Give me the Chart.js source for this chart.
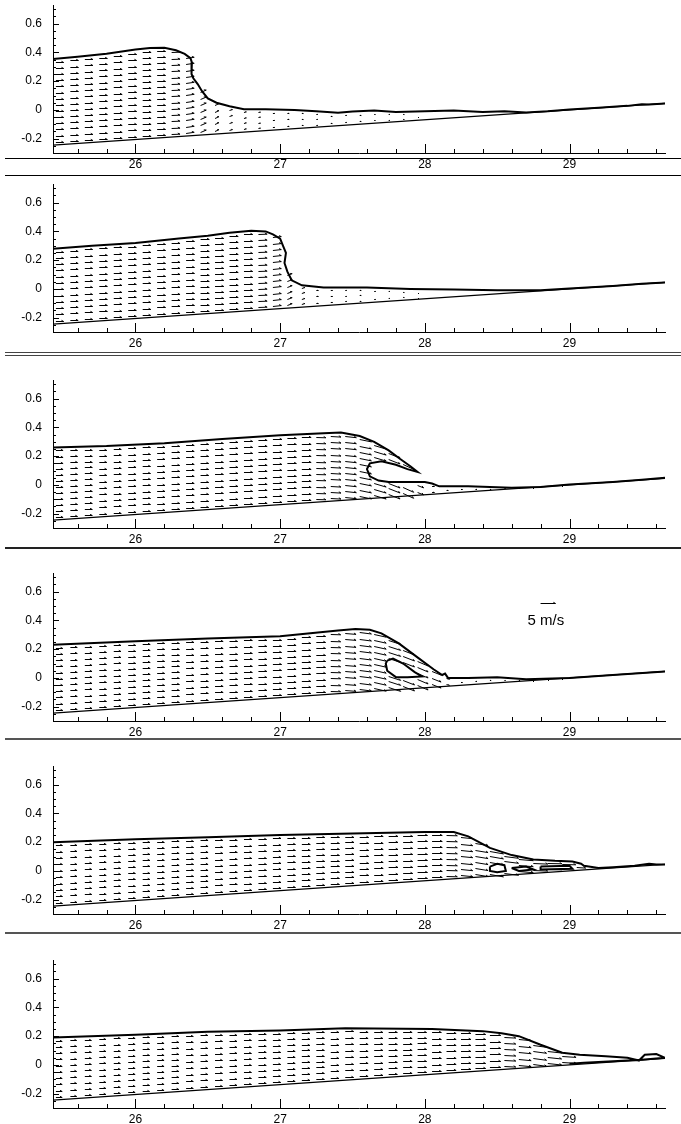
<!DOCTYPE html>
<html>
<head>
<meta charset="utf-8">
<script src="https://cdn.jsdelivr.net/npm/chart.js@4.4.1/dist/chart.umd.min.js"></script>
<style>
  body { margin: 0; background: #fff; width: 681px; height: 1124px; position: relative; overflow: hidden; }
  canvas.panel { position: absolute; left: 0; }
  .rule { position: absolute; left: 5px; right: 0; }
</style>
</head>
<body>
<div class="rule" style="top:158px;height:1px;background:#000"></div>
<div class="rule" style="top:175px;height:1px;background:#000"></div>
<div class="rule" style="top:352px;height:1px;background:#444"></div>
<div class="rule" style="top:355px;height:1px;background:#444"></div>
<div class="rule" style="top:547px;height:2px;background:#222"></div>
<div class="rule" style="top:738px;height:2px;background:#555"></div>
<div class="rule" style="top:932px;height:2px;background:#555"></div>

<canvas id="panel1" class="panel"></canvas>
<canvas id="panel2" class="panel"></canvas>
<canvas id="panel3" class="panel"></canvas>
<canvas id="panel4" class="panel"></canvas>
<canvas id="panel5" class="panel"></canvas>
<canvas id="panel6" class="panel"></canvas>

<script>
// axes
const xTicks = [26, 27, 28, 29];
const yTicks = [-0.2, 0, 0.2, 0.4, 0.6];
const xRange = [25.43, 29.66];
const yRange = [-0.3, 0.73];

// sloping bed
const bedX = [25.43, 29.66];
const bedY = [-0.245, 0.045];

// free surface, one polyline per snapshot
const surf1X = [25.43, 25.6, 25.8, 26.0, 26.1, 26.2, 26.28, 26.34, 26.38, 26.39, 26.385, 26.39, 26.4, 26.43, 26.46, 26.5, 26.56, 26.65, 26.75, 26.9, 27.1, 27.25, 27.4, 27.5, 27.65, 27.8, 28.0, 28.2, 28.4, 28.55, 28.7, 28.85, 29.0, 29.2, 29.4, 29.5, 29.55, 29.66];
const surf1Y = [0.355, 0.37, 0.39, 0.42, 0.43, 0.432, 0.415, 0.39, 0.36, 0.33, 0.29, 0.25, 0.22, 0.18, 0.13, 0.08, 0.05, 0.025, 0.005, 0.005, 0.0, -0.01, -0.02, -0.012, -0.005, -0.015, -0.01, -0.005, -0.015, -0.01, -0.018, -0.01, 0.002, 0.015, 0.028, 0.04, 0.038, 0.045];

const surf2X = [25.43, 25.7, 26.0, 26.3, 26.5, 26.65, 26.8, 26.9, 26.95, 27.0, 27.02, 27.04, 27.03, 27.05, 27.08, 27.15, 27.3, 27.6, 27.9, 28.2, 28.5, 28.8, 29.0, 29.3, 29.5, 29.66];
const surf2Y = [0.28, 0.30, 0.32, 0.35, 0.37, 0.39, 0.405, 0.40, 0.38, 0.35, 0.30, 0.25, 0.18, 0.12, 0.06, 0.025, 0.01, 0.01, 0.0, -0.005, -0.01, -0.01, 0.002, 0.02, 0.035, 0.045];

const surf3X = [25.43, 25.8, 26.2, 26.6, 27.0, 27.3, 27.42, 27.55, 27.65, 27.75, 27.83, 27.9, 27.95, 27.88, 27.8, 27.7, 27.62, 27.6, 27.62, 27.68, 27.75, 27.9, 28.0, 28.05, 28.1, 28.3, 28.6, 28.8, 29.0, 29.3, 29.5, 29.66];
const surf3Y = [0.26, 0.27, 0.29, 0.32, 0.345, 0.36, 0.365, 0.34, 0.30, 0.24, 0.18, 0.13, 0.09, 0.11, 0.14, 0.165, 0.15, 0.11, 0.06, 0.03, 0.02, 0.02, 0.02, 0.01, -0.01, -0.01, -0.02, -0.015, 0.002, 0.02, 0.035, 0.05];

const surf4X = [25.43, 26.0, 26.5, 27.0, 27.4, 27.52, 27.62, 27.7, 27.82, 27.94, 28.06, 28.12, 28.14, 28.16, 28.3, 28.5, 28.7, 29.0, 29.3, 29.66];
const surf4Y = [0.23, 0.255, 0.275, 0.29, 0.33, 0.34, 0.335, 0.31, 0.24, 0.15, 0.06, 0.02, 0.03, 0.0, 0.0, 0.005, -0.01, 0.0, 0.02, 0.045];
const cavity4X = [27.74, 27.78, 27.85, 27.93, 27.98, 27.88, 27.8, 27.74, 27.73, 27.74];
const cavity4Y = [0.12, 0.135, 0.1, 0.04, 0.01, 0.005, 0.005, 0.05, 0.1, 0.12];

const surf5X = [25.43, 26.0, 26.5, 27.0, 27.5, 28.0, 28.2, 28.3, 28.45, 28.6, 28.75, 28.9, 29.02, 29.08, 29.1, 29.2, 29.3, 29.45, 29.55, 29.6, 29.66];
const surf5Y = [0.2, 0.22, 0.235, 0.25, 0.26, 0.27, 0.27, 0.24, 0.16, 0.11, 0.08, 0.07, 0.065, 0.05, 0.035, 0.02, 0.025, 0.035, 0.05, 0.045, 0.045];
const debris5aX = [28.45, 28.5, 28.55, 28.56, 28.5, 28.45, 28.45];
const debris5aY = [0.03, 0.05, 0.04, 0.0, -0.01, 0.0, 0.03];
const debris5bX = [28.6, 28.7, 28.75, 28.65, 28.6];
const debris5bY = [0.02, 0.03, 0.01, 0.0, 0.02];
const debris5cX = [28.8, 29.0, 29.02, 28.8, 28.8];
const debris5cY = [0.03, 0.035, 0.015, 0.01, 0.03];

const surf6X = [25.43, 26.0, 26.5, 27.0, 27.45, 28.05, 28.4, 28.53, 28.65, 28.8, 28.95, 29.07, 29.25, 29.4, 29.48, 29.52, 29.6, 29.66, 29.5, 29.3, 29.1, 29.0];
const surf6Y = [0.19, 0.21, 0.23, 0.24, 0.255, 0.25, 0.235, 0.22, 0.2, 0.14, 0.085, 0.07, 0.06, 0.05, 0.03, 0.07, 0.075, 0.05, 0.035, 0.025, 0.015, 0.008];

// velocity columns (m/s), one u and v per column
const arrowCols = [25.45, 25.55, 25.65, 25.75, 25.85, 25.95, 26.05, 26.15, 26.25, 26.35, 26.45, 26.55, 26.65, 26.75, 26.85, 26.95, 27.05, 27.15, 27.25, 27.35, 27.45, 27.55, 27.65, 27.75, 27.85, 27.95, 28.05, 28.15, 28.25, 28.35, 28.45, 28.55, 28.65, 28.75, 28.85, 28.95, 29.05, 29.15];

const u1 = [2.6, 2.7, 2.7, 2.7, 2.8, 2.8, 2.8, 2.8, 2.8, 2.7, 1.9, 1.3, 1.0, 0.8, 0.7, 0.6, 0.6, 0.5, 0.5, 0.5, 0.5, 0.5, 0.4, 0.4, 0.4, 0.3];
const v1 = [0, 0, 0, 0, 0, 0, 0, 0, 0.1, 0.4, 0.8, 0.6, 0.3, 0.2, 0.1, 0, 0, 0, 0, 0, 0, 0, 0, 0, 0, 0];

const u2 = [2.6, 2.6, 2.6, 2.7, 2.7, 2.7, 2.7, 2.8, 2.8, 2.8, 2.9, 2.9, 2.9, 2.9, 2.9, 2.8, 1.6, 1.0, 0.7, 0.6, 0.5, 0.5, 0.5, 0.4, 0.4, 0.3];
const v2 = [0, 0, 0, 0, 0, 0, 0, 0, 0, 0, 0, 0, 0, 0, 0.1, 0.3, 0.6, 0.3, 0, 0, 0, 0, 0, 0, 0, 0];

const u3 = [2.4, 2.4, 2.5, 2.5, 2.5, 2.6, 2.6, 2.6, 2.7, 2.7, 2.7, 2.8, 2.8, 2.9, 2.9, 3.0, 3.0, 3.1, 3.2, 3.4, 3.7, 3.9, 4.0, 3.8, 3.5, 2.0, 0.8, 0.6, 0.5, 0.5, 0.4, 0.4, 0.4, 0.3, 0.3, 0.3];
const v3 = [0, 0, 0, 0, 0, 0, 0, 0, 0, 0, 0, 0, 0, 0, 0, 0, 0, 0, -0.1, -0.2, -0.4, -0.8, -1.2, -1.5, -1.6, -0.8, 0, 0, 0, 0, 0, 0, 0, 0, 0, 0];

const u4 = [2.3, 2.3, 2.4, 2.4, 2.4, 2.5, 2.5, 2.5, 2.6, 2.6, 2.6, 2.7, 2.7, 2.8, 2.8, 2.9, 2.9, 3.0, 3.1, 3.3, 3.6, 3.9, 4.0, 4.0, 3.8, 3.5, 3.0, 1.0, 0.5, 0.5, 0.4, 0.4, 0.4, 0.3, 0.3, 0.3];
const v4 = [0, 0, 0, 0, 0, 0, 0, 0, 0, 0, 0, 0, 0, 0, 0, 0, 0, 0, 0, -0.1, -0.3, -0.5, -0.9, -1.3, -1.5, -1.5, -1.2, -0.3, 0, 0, 0, 0, 0, 0, 0, 0];

const u5 = [2.2, 2.2, 2.3, 2.3, 2.3, 2.4, 2.4, 2.4, 2.5, 2.5, 2.5, 2.6, 2.6, 2.6, 2.7, 2.7, 2.7, 2.8, 2.8, 2.9, 2.9, 3.0, 3.0, 3.1, 3.2, 3.3, 3.4, 3.6, 3.9, 4.2, 4.5, 4.7, 4.8, 4.8, 4.7, 4.5, 3.0];
const v5 = [0, 0, 0, 0, 0, 0, 0, 0, 0, 0, 0, 0, 0, 0, 0, 0, 0, 0, 0, 0, 0, 0, 0, 0, 0, 0, 0, -0.1, -0.4, -0.7, -0.8, -0.6, -0.4, -0.2, -0.1, -0.1, -0.2];

const u6 = [2.1, 2.1, 2.2, 2.2, 2.2, 2.3, 2.3, 2.3, 2.4, 2.4, 2.4, 2.5, 2.5, 2.5, 2.6, 2.6, 2.6, 2.7, 2.7, 2.7, 2.8, 2.8, 2.9, 2.9, 3.0, 3.0, 3.1, 3.2, 3.3, 3.4, 3.6, 3.8, 4.1, 4.4, 4.6, 4.6, 4.3, 3.5];
const v6 = [0, 0, 0, 0, 0, 0, 0, 0, 0, 0, 0, 0, 0, 0, 0, 0, 0, 0, 0, 0, 0, 0, 0, 0, 0, 0, 0, 0, 0, 0, 0, -0.2, -0.4, -0.6, -0.5, -0.3, -0.1, -0.1];

// reference vector shown in the fourth snapshot
const refSpeed = 5;
const refLabel = "5 m/s";
const refAt = [28.8, 0.52];
const refLabelAt = [28.71, 0.40];

const PX_PER_MS = 3;   // arrow length in px for 1 m/s
const ROW_GAP = 0.043; // vertical spacing of vector rows
const FONT = "Liberation Sans, Arial, sans-serif";

// top of the chart area for each snapshot, page px
const panelTops = [5, 184, 380, 573, 766, 960];
const AREA_H = 148;
const PAD_TOP = 20;
const AXIS_H = 20;

function toPoints(xs, ys) {
  return xs.map((x, i) => ({ x: x, y: ys[i] }));
}

function bedAt(x) {
  return bedY[0] + (bedY[1] - bedY[0]) * (x - bedX[0]) / (bedX[1] - bedX[0]);
}

// heights where a polyline crosses the vertical x = cx
function crossings(xs, ys, cx) {
  const cuts = [];
  for (let i = 0; i < xs.length - 1; i++) {
    const x0 = xs[i], x1 = xs[i + 1];
    if (x0 === x1) continue;
    if ((cx >= x0 && cx < x1) || (cx >= x1 && cx < x0)) {
      const t = (cx - x0) / (x1 - x0);
      cuts.push(ys[i] + t * (ys[i + 1] - ys[i]));
    }
  }
  return cuts.sort((a, b) => a - b);
}

function insideLoop(xs, ys, px, py) {
  let inside = false;
  for (let i = 0, j = xs.length - 1; i < xs.length; j = i++) {
    if ((ys[i] > py) !== (ys[j] > py) &&
        px < (xs[j] - xs[i]) * (py - ys[i]) / (ys[j] - ys[i]) + xs[i]) {
      inside = !inside;
    }
  }
  return inside;
}

function drawArrow(ctx, px, py, u, v) {
  const dx = u * PX_PER_MS;
  const dy = -v * PX_PER_MS;
  const len = Math.hypot(dx, dy);
  if (len < 1.2) {
    ctx.fillRect(Math.round(px), Math.round(py), 1, 1);
    return;
  }
  const ex = px + dx, ey = py + dy;
  const a = Math.atan2(dy, dx);
  const h = Math.min(2.5, len * 0.4);
  ctx.beginPath();
  ctx.moveTo(px, py);
  ctx.lineTo(ex, ey);
  ctx.lineTo(ex - h * Math.cos(a + 0.5), ey - h * Math.sin(a + 0.5));
  ctx.stroke();
}

// velocity vectors, drawn in rows between the bed and the free surface
const vectorPlugin = {
  id: "vectors",
  afterDatasetsDraw(chart, args, opts) {
    const { ctx, chartArea, scales: { x, y } } = chart;
    ctx.save();
    ctx.beginPath();
    ctx.rect(chartArea.left, chartArea.top, chartArea.width, chartArea.height);
    ctx.clip();
    ctx.strokeStyle = "#000";
    ctx.fillStyle = "#000";
    ctx.lineWidth = 1;
    opts.u.forEach((u, i) => {
      const cx = arrowCols[i];
      const bed = bedAt(cx);
      const cuts = crossings(opts.surfX, opts.surfY, cx);
      if (!cuts.length) return;
      const top = cuts[cuts.length - 1];
      const n = Math.max(1, Math.round((top - bed) / ROW_GAP));
      for (let k = 0; k < n; k++) {
        const cy = bed + (k + 0.5) * (top - bed) / n;
        const below = cuts.filter((c) => c < cy).length;
        if (below % 2 === 1) continue;
        if (opts.holes.some((h) => insideLoop(h[0], h[1], cx, cy))) continue;
        const px = x.getPixelForValue(cx);
        const py = Math.round(y.getPixelForValue(cy)) + 0.5;
        drawArrow(ctx, px, py, u, opts.v[i]);
      }
    });
    ctx.restore();

    if (opts.reference) {
      const px = x.getPixelForValue(refAt[0]);
      const py = Math.round(y.getPixelForValue(refAt[1])) + 0.5;
      ctx.save();
      ctx.strokeStyle = "#000";
      ctx.lineWidth = 1;
      drawArrow(ctx, px, py, refSpeed, 0);
      ctx.font = "15px " + FONT;
      ctx.fillStyle = "#000";
      ctx.textBaseline = "middle";
      ctx.fillText(refLabel, x.getPixelForValue(refLabelAt[0]), y.getPixelForValue(refLabelAt[1]));
      ctx.restore();
    }
  },
};

// inward tick marks on both axes
const tickPlugin = {
  id: "inwardTicks",
  afterDraw(chart) {
    const { ctx, chartArea, scales: { x, y } } = chart;
    ctx.save();
    ctx.strokeStyle = "#000";
    ctx.lineWidth = 1;
    ctx.beginPath();
    for (let i = Math.ceil(xRange[0] * 5); i <= Math.floor(xRange[1] * 5); i++) {
      const px = Math.round(x.getPixelForValue(i / 5)) + 0.5;
      const len = i % 5 === 0 ? 9 : 4;
      ctx.moveTo(px, chartArea.bottom);
      ctx.lineTo(px, chartArea.bottom - len);
    }
    for (let i = Math.ceil(yRange[0] * 20); i <= Math.floor(yRange[1] * 20); i++) {
      const py = Math.round(y.getPixelForValue(i / 20)) + 0.5;
      const len = i % 4 === 0 ? 6 : 3;
      ctx.moveTo(chartArea.left, py);
      ctx.lineTo(chartArea.left + len, py);
    }
    ctx.stroke();
    ctx.restore();
  },
};

function lineSet(xs, ys, width) {
  return {
    data: toPoints(xs, ys),
    showLine: true,
    pointRadius: 0,
    borderColor: "#000",
    borderWidth: width,
    fill: false,
    tension: 0,
  };
}

function createPanel(id, index, surfX, surfY, u, v, loops, reference) {
  const canvas = document.getElementById(id);
  canvas.width = 681;
  canvas.height = PAD_TOP + AREA_H + AXIS_H;
  canvas.style.top = (panelTops[index] - PAD_TOP) + "px";

  const datasets = [lineSet(bedX, bedY, 1.2), lineSet(surfX, surfY, 2)];
  loops.forEach((loop) => datasets.push(lineSet(loop[0], loop[1], 2)));

  const config = {
    type: "scatter",
    data: { datasets: datasets },
    options: {
      responsive: false,
      animation: false,
      events: [],
      layout: { padding: { top: PAD_TOP, right: 16, bottom: 0, left: 0 } },
      plugins: {
        legend: { display: false },
        tooltip: { enabled: false },
        vectors: { surfX: surfX, surfY: surfY, u: u, v: v, holes: loops, reference: reference },
      },
      scales: {
        x: {
          type: "linear",
          min: xRange[0],
          max: xRange[1],
          grid: { display: false, drawTicks: false },
          border: { display: true, color: "#000", width: 1 },
          afterBuildTicks: (scale) => { scale.ticks = xTicks.map((t) => ({ value: t })); },
          afterFit: (scale) => { scale.height = AXIS_H; },
          ticks: { color: "#000", font: { family: FONT, size: 12 }, padding: 4, maxRotation: 0, autoSkip: false },
        },
        y: {
          type: "linear",
          min: yRange[0],
          max: yRange[1],
          grid: { display: false, drawTicks: false },
          border: { display: true, color: "#000", width: 1 },
          afterBuildTicks: (scale) => { scale.ticks = yTicks.map((t) => ({ value: t })); },
          afterFit: (scale) => { scale.width = 53; },
          ticks: {
            color: "#000",
            font: { family: FONT, size: 12 },
            padding: 11,
            callback: (val) => (val === 0 ? "0" : (Math.round(val * 10) / 10).toString()),
          },
        },
      },
    },
    plugins: [vectorPlugin, tickPlugin],
  };
  return new Chart(canvas, config);
}

createPanel("panel1", 0, surf1X, surf1Y, u1, v1, [], false);
createPanel("panel2", 1, surf2X, surf2Y, u2, v2, [], false);
createPanel("panel3", 2, surf3X, surf3Y, u3, v3, [], false);
createPanel("panel4", 3, surf4X, surf4Y, u4, v4, [[cavity4X, cavity4Y]], true);
createPanel("panel5", 4, surf5X, surf5Y, u5, v5, [[debris5aX, debris5aY], [debris5bX, debris5bY], [debris5cX, debris5cY]], false);
createPanel("panel6", 5, surf6X, surf6Y, u6, v6, [], false);
</script>
</body>
</html>
